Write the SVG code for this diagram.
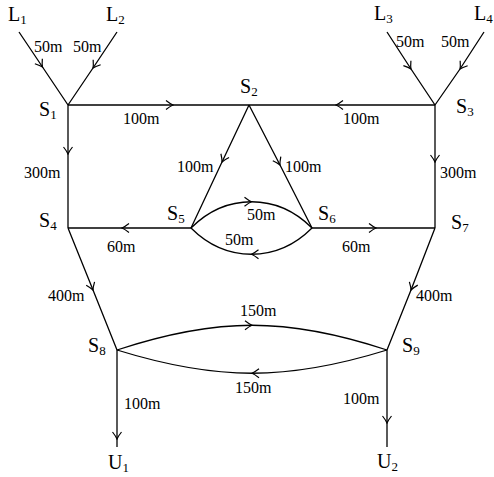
<svg xmlns="http://www.w3.org/2000/svg" width="494" height="477" viewBox="0 0 494 477">
<style>
text{font-family:'Liberation Serif','Times New Roman',serif;fill:#000}
.n{font-size:20px}
.sub{font-size:13px}
.e{font-size:16px}
.c{fill:none;stroke:#000;stroke-width:1.3;marker-mid:url(#arr)}
</style>
<defs>
<marker id="arr" viewBox="-9 -6 10 12" markerWidth="10" markerHeight="12" refX="0" refY="0" orient="auto" markerUnits="userSpaceOnUse">
<path d="M-7,-4.5 Q-2.5,-1 0,0 Q-2.5,1 -7,4.5" fill="none" stroke="#000" stroke-width="1.2"/>
</marker>
</defs>
<rect width="494" height="477" fill="#fff"/>
<g id="connectors">
<path class="c" d="M19,32 L42.5,67 L68,105"/>
<path class="c" d="M117,32 L93,68 L68,105"/>
<path class="c" d="M387,32 L411,69 L435,105"/>
<path class="c" d="M484,32 L460,69 L435,105"/>
<path class="c" d="M68,105 L173,105 L249,105"/>
<path class="c" d="M435,105 L336,105 L249,105"/>
<path class="c" d="M68,105 L68,154 L68,228"/>
<path class="c" d="M435,105 L435,162 L435,228"/>
<path class="c" d="M249,105 L222,162 L191,228"/>
<path class="c" d="M249,105 L280,165 L312,228"/>
<path class="c" d="M191,228 L122,228 L68,228"/>
<path class="c" d="M312,228 L376,228 L435,228"/>
<path class="c" d="M191,228 C208.5,210.5 230,201.75 251.5,201.75 C273,201.75 294.5,210.5 312,228"/>
<path class="c" d="M312,228 C294.5,245.5 273,254.25 251.5,254.25 C230,254.25 208.5,245.5 191,228"/>
<path class="c" d="M68,228 L93,290 L117,350"/>
<path class="c" d="M435,228 L411,290 L387,350"/>
<path class="c" d="M117,350 C167,333.5 209.5,325.25 252,325.25 C294.5,325.25 337,333.5 387,350"/>
<path class="c" d="M387,350 C337,365.5 294.5,373.25 252,373.25 C209.5,373.25 167,365.5 117,350"/>
<path class="c" d="M117,350 L117,439 L117,447"/>
<path class="c" d="M387,350 L387,423 L387,447"/>
</g>
<g id="edge-labels">
<text class="e" x="34" y="52">50m</text>
<text class="e" x="73" y="52">50m</text>
<text class="e" x="396" y="47">50m</text>
<text class="e" x="441" y="47">50m</text>
<text class="e" x="123" y="124">100m</text>
<text class="e" x="343" y="124">100m</text>
<text class="e" x="24" y="178">300m</text>
<text class="e" x="440" y="178">300m</text>
<text class="e" x="177" y="172">100m</text>
<text class="e" x="285" y="172">100m</text>
<text class="e" x="247" y="220">50m</text>
<text class="e" x="225" y="245">50m</text>
<text class="e" x="107" y="252">60m</text>
<text class="e" x="342" y="252">60m</text>
<text class="e" x="48" y="301">400m</text>
<text class="e" x="416" y="301">400m</text>
<text class="e" x="240" y="316">150m</text>
<text class="e" x="235" y="393">150m</text>
<text class="e" x="124" y="409">100m</text>
<text class="e" x="343" y="404">100m</text>
</g>
<g id="L1"><text class="n" x="8" y="21">L<tspan class="sub" dy="3">1</tspan></text></g>
<g id="L2"><text class="n" x="106" y="21">L<tspan class="sub" dy="3">2</tspan></text></g>
<g id="L3"><text class="n" x="374" y="20">L<tspan class="sub" dy="3">3</tspan></text></g>
<g id="L4"><text class="n" x="474" y="20">L<tspan class="sub" dy="3">4</tspan></text></g>
<g id="S1"><text class="n" x="39" y="116">S<tspan class="sub" dy="3">1</tspan></text></g>
<g id="S2"><text class="n" x="240" y="93">S<tspan class="sub" dy="3">2</tspan></text></g>
<g id="S3"><text class="n" x="456" y="113">S<tspan class="sub" dy="3">3</tspan></text></g>
<g id="S4"><text class="n" x="39" y="227">S<tspan class="sub" dy="3">4</tspan></text></g>
<g id="S5"><text class="n" x="167" y="220">S<tspan class="sub" dy="3">5</tspan></text></g>
<g id="S6"><text class="n" x="318" y="220">S<tspan class="sub" dy="3">6</tspan></text></g>
<g id="S7"><text class="n" x="451" y="229">S<tspan class="sub" dy="3">7</tspan></text></g>
<g id="S8"><text class="n" x="88" y="352">S<tspan class="sub" dy="3">8</tspan></text></g>
<g id="S9"><text class="n" x="402" y="352">S<tspan class="sub" dy="3">9</tspan></text></g>
<g id="U1"><text class="n" x="108" y="469">U<tspan class="sub" dy="3">1</tspan></text></g>
<g id="U2"><text class="n" x="377" y="468">U<tspan class="sub" dy="3">2</tspan></text></g>
</svg>
